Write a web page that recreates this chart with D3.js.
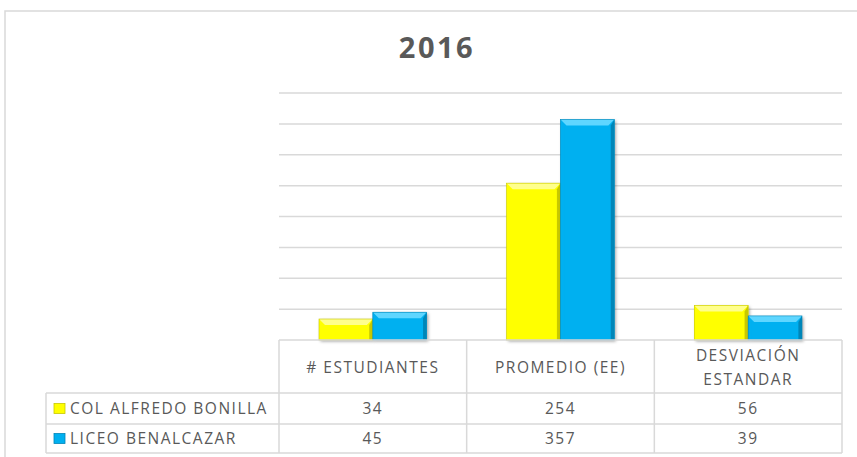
<!DOCTYPE html>
<html>
<head>
<meta charset="utf-8">
<script src="https://cdn.jsdelivr.net/npm/d3@7"></script>
<style>
  body { margin: 0; background: #fff; }
  text { font-family: "Open Sans", sans-serif; fill: #595959; }
</style>
</head>
<body>
<svg id="chart" width="857" height="457"></svg>
<script>
// data
var categories = ["# ESTUDIANTES", "PROMEDIO (EE)", "DESVIACIÓN ESTANDAR"];
var series = ["COL ALFREDO BONILLA", "LICEO BENALCAZAR"];
var bonilla = [34, 254, 56];
var benalcazar = [45, 357, 39];
var yTicks = [0, 50, 100, 150, 200, 250, 300, 350, 400];

var values = [bonilla, benalcazar];
var colors = ["#ffff00", "#00b0f0"];
var lightC = ["#ffff8c", "#5fd6ff"];
var darkC = ["#c8c800", "#0086b8"];

var svg = d3.select("#chart");
var plotLeft = 279, plotRight = 842, plotTop = 93, base = 340;
var labelSize = "15.5px", labelSpacing = "1.5px";

// outer frame
svg.append("path")
  .attr("d", "M5,460 L5,11 L860,11")
  .attr("fill", "none").attr("stroke", "#d9d9d9").attr("stroke-width", 1.5);

svg.append("text")
  .attr("x", 437).attr("y", 58)
  .attr("text-anchor", "middle")
  .style("font-size", "29px").style("font-weight", "bold")
  .style("letter-spacing", "2.5px")
  .text("2016");

var y = d3.scaleLinear().domain([0, 400]).range([base, plotTop]);
var x0 = d3.scaleBand().domain(categories).range([plotLeft, plotRight]);
var bw = x0.bandwidth();
var x1 = d3.scaleBand().domain(series).range([40, bw - 40]);

// gridlines
svg.append("g").selectAll("line")
  .data(yTicks.filter(function(d) { return d > 0; }))
  .enter().append("line")
  .attr("x1", plotLeft).attr("x2", plotRight)
  .attr("y1", function(d) { return y(d); })
  .attr("y2", function(d) { return y(d); })
  .attr("stroke", "#d9d9d9").attr("stroke-width", 1.5);

// shadow
var defs = svg.append("defs");
var f = defs.append("filter").attr("id", "shadow")
  .attr("x", "-20%").attr("y", "-20%").attr("width", "140%").attr("height", "140%");
f.append("feDropShadow").attr("dx", 1.5).attr("dy", 1.5).attr("stdDeviation", 1.5)
  .attr("flood-color", "#000").attr("flood-opacity", 0.35);

// bars with bevel
series.forEach(function(s, si) {
  var g = svg.append("g");
  categories.forEach(function(c, ci) {
    var v = values[si][ci];
    var x = x0(c) + x1(s), w = x1.bandwidth();
    var yt = y(v), h = base - yt;
    var b = Math.min(6, h / 3);
    var bar = g.append("g");
    bar.append("rect").attr("x", x).attr("y", yt).attr("width", w).attr("height", h)
      .attr("fill", colors[si]).attr("filter", "url(#shadow)");
    // top bevel
    bar.append("polygon")
      .attr("points", [[x, yt], [x + w, yt], [x + w - b, yt + b], [x + b, yt + b]].join(" "))
      .attr("fill", lightC[si]);
    // left bevel
    bar.append("polygon")
      .attr("points", [[x, yt], [x + b * 0.6, yt + b], [x + b * 0.6, base], [x, base]].join(" "))
      .attr("fill", colors[si]).attr("opacity", 0.85);
    // right bevel
    bar.append("polygon")
      .attr("points", [[x + w, yt], [x + w, base], [x + w - b * 0.6, base], [x + w - b * 0.6, yt + b]].join(" "))
      .attr("fill", darkC[si]);
    bar.append("rect").attr("x", x).attr("y", yt).attr("width", w).attr("height", h)
      .attr("fill", "none").attr("stroke", darkC[si]).attr("stroke-width", 0.6);
  });
});

// data table
var rowTop = [340, 393, 424, 453];
var tableLeft = 46;
var grid = svg.append("g").attr("stroke", "#d9d9d9").attr("stroke-width", 1.5);
grid.append("line").attr("x1", plotLeft).attr("x2", plotRight).attr("y1", rowTop[0]).attr("y2", rowTop[0]);
[1, 2, 3].forEach(function(i) {
  grid.append("line").attr("x1", tableLeft).attr("x2", plotRight).attr("y1", rowTop[i]).attr("y2", rowTop[i]);
});
grid.append("line").attr("x1", tableLeft).attr("x2", tableLeft).attr("y1", rowTop[1]).attr("y2", rowTop[3]);
x0.domain().concat([null]).forEach(function(c) {
  var xx = c === null ? plotRight : x0(c);
  grid.append("line").attr("x1", xx).attr("x2", xx).attr("y1", rowTop[0]).attr("y2", rowTop[3]);
});

// header labels
categories.forEach(function(c) {
  var cx = x0(c) + bw / 2;
  var t = svg.append("text").attr("text-anchor", "middle")
    .style("font-size", labelSize).style("letter-spacing", labelSpacing);
  if (c === "DESVIACIÓN ESTANDAR") {
    t.append("tspan").attr("x", cx).attr("y", 361).text("DESVIACIÓN");
    t.append("tspan").attr("x", cx).attr("y", 385).text("ESTANDAR");
  } else {
    t.attr("x", cx).attr("y", 373).text(c);
  }
});

// rows
series.forEach(function(s, si) {
  var ym = (rowTop[si + 1] + rowTop[si + 2]) / 2;
  svg.append("rect").attr("x", 54).attr("y", ym - 5).attr("width", 11).attr("height", 10)
    .attr("fill", colors[si]).attr("stroke", darkC[si]).attr("stroke-width", 0.8);
  svg.append("text").attr("x", 70).attr("y", ym + 5.5)
    .style("font-size", labelSize).style("letter-spacing", labelSpacing).text(s);
  categories.forEach(function(c, ci) {
    svg.append("text").attr("x", x0(c) + bw / 2).attr("y", ym + 5.5)
      .attr("text-anchor", "middle")
      .style("font-size", labelSize).style("letter-spacing", labelSpacing)
      .text(values[si][ci]);
  });
});
</script>
</body>
</html>
